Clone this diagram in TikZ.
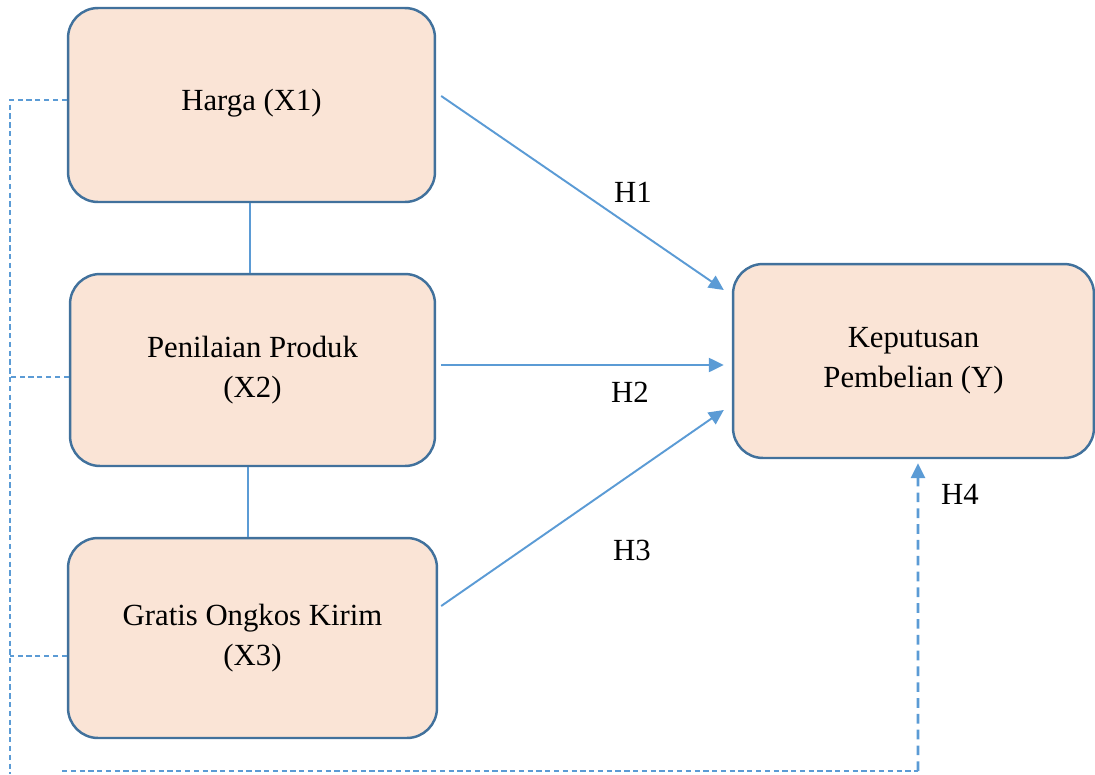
\documentclass[tikz,border=0pt]{standalone}
\usepackage{fontspec}
\setmainfont{Liberation Serif}
\usetikzlibrary{arrows.meta}
\definecolor{boxfill}{HTML}{FAE4D6}
\definecolor{boxline}{HTML}{41719C}
\definecolor{linkblue}{HTML}{5B9BD5}
\tikzset{
  varbox/.style={draw=boxline, line width=1.4pt, fill=boxfill, rounded corners=0.6cm,
    align=center, inner sep=0pt, font=\fontsize{17.5}{22.8}\selectfont},
  hyparrow/.style={draw=linkblue, line width=1.1pt, -{Triangle[length=8.5pt,width=8pt]}},
  thinlink/.style={draw=linkblue, line width=0.6pt},
  dashlink/.style={draw=linkblue, line width=0.6pt, dash pattern=on 3pt off 2pt},
  h4arrow/.style={draw=linkblue, line width=1.6pt, dash pattern=on 5.5pt off 3.5pt,
    -{Triangle[length=8.5pt,width=8pt]}},
  hlabel/.style={font=\fontsize{17.5}{21}\selectfont, inner sep=0pt}
}
\begin{document}
\begin{tikzpicture}[x=0.02cm,y=-0.02cm]
    \useasboundingbox (0,0) rectangle (1095,774);
    % variables
    \node[varbox, minimum width=7.34cm, minimum height=3.88cm] (x1) at (251.5,105) {\raisebox{5.6pt}{Harga (X1)}};
    \node[varbox, minimum width=7.30cm, minimum height=3.84cm] (x2) at (252.5,370) {Penilaian Produk\\(X2)};
    \node[varbox, minimum width=7.38cm, minimum height=4.00cm] (x3) at (252.5,638) {Gratis Ongkos Kirim\\(X3)};
    \node[varbox, minimum width=7.22cm, minimum height=3.88cm] (y) at (913.5,361) {Keputusan\\Pembelian (Y)};
    % links between the variables
    \draw[thinlink] ([shift={(-1.5,0)}]x1.south) -- ([shift={(-2.5,0)}]x2.north);
    \draw[thinlink] ([shift={(-4.5,0)}]x2.south) -- ([shift={(-4.5,0)}]x3.north);
    % hypotheses
    \draw[hyparrow] ([shift={(5,-9)}]x1.east) -- ([shift={(-8,-71)}]y.west);
    \draw[hyparrow] ([shift={(5,-5)}]x2.east) -- ([shift={(-8,4)}]y.west);
    \draw[hyparrow] ([shift={(3,-32)}]x3.east) -- ([shift={(-8,49)}]y.west);
    \node[hlabel] (h1) at (633,192) {H1};
    \node[hlabel] (h2) at (630,392) {H2};
    \node[hlabel] (h3) at (632,550) {H3};
    \node[hlabel] (h4) at (960,494) {H4};
    % simultaneous effect
    \coordinate (lt) at (10,100);
    \coordinate (lb) at (10,774);
    \coordinate (bl) at (62,771);
    \coordinate (br) at (918,771);
    \draw[dashlink] ([shift={(0,-5)}]x1.west) -- (lt) -- (lb);
    \draw[dashlink] ([shift={(0,7)}]x2.west) -- (10,377);
    \draw[dashlink] ([shift={(0,18)}]x3.west) -- (10,656);
    \draw[dashlink] (bl) -- (br);
    \draw[h4arrow] (br) -- ([shift={(4.5,4)}]y.south);
\end{tikzpicture}
\end{document}
